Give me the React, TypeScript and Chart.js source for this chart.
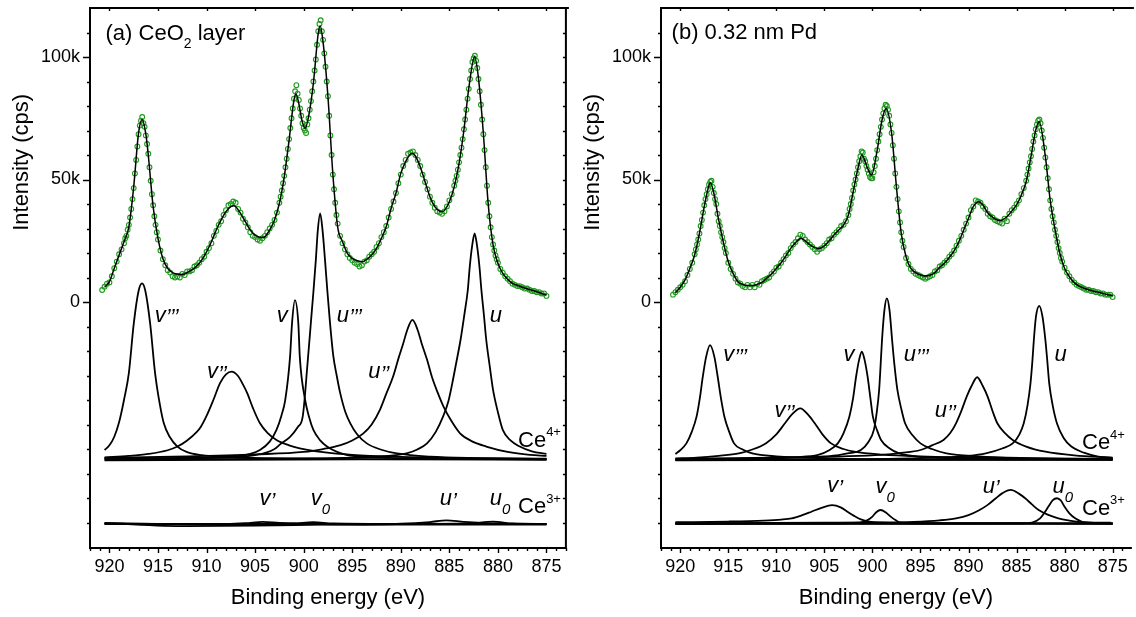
import React, { useEffect, useRef } from 'react';
import { Chart, registerables } from 'chart.js';

Chart.register(...registerables);

const FONT = '"Liberation Sans", Arial, Helvetica, sans-serif';
const GREEN = '#1c991c';

// Axis ticks
const X_TICKS = [920, 915, 910, 905, 900, 895, 890, 885, 880, 875];
const Y_TICKS = [0, 50, 100];
const Y_TICK_LABELS = ['0', '50k', '100k'];
const Y_TITLE = 'Intensity (cps)';
const X_TITLE = 'Binding energy (eV)';

// Measured spectra: binding energy grid (eV) and intensities (k cps)
const DATA_START = 920.75;
const DATA_STEP = 0.25;

const A_POINTS = [
  4.9, 6.2, 7.5, 8.0, 10.5, 13.8, 16.5, 19.5,
  21.5, 24.0, 27.0, 31.5, 38.0, 46.5, 58.0, 68.5,
  74.0, 73.0, 68.0, 60.5, 49.5, 39.5, 31.5, 25.5,
  21.0, 17.5, 15.0, 13.0, 12.0, 10.5, 10.0, 10.5,
  10.0, 11.5, 11.0, 12.5, 12.5, 13.0, 14.5, 15.0,
  16.0, 17.5, 18.5, 20.5, 22.0, 24.0, 27.0, 29.0,
  31.5, 33.0, 35.5, 37.5, 39.5, 40.0, 41.0, 40.5,
  38.0, 36.5, 34.0, 32.5, 30.5, 28.5, 27.0, 26.5,
  25.5, 25.0, 26.0, 27.0, 28.5, 30.0, 31.5, 33.5,
  36.5, 40.5, 45.5, 51.5, 58.5, 66.5, 75.0, 83.0,
  88.5, 82.5, 76.0, 71.0, 69.0, 75.0, 82.0, 90.0,
  99.0, 110.5, 115.0, 107.0, 96.0, 84.0, 68.0, 52.0,
  40.5, 32.0, 27.0, 24.0, 21.5, 19.5, 18.0, 17.0,
  16.0, 15.5, 14.5, 15.0, 16.5, 17.0, 18.5, 19.5,
  20.5, 22.5, 24.0, 26.5, 28.5, 31.0, 34.5, 38.0,
  41.0, 44.5, 48.5, 52.0, 55.5, 58.0, 60.5, 61.0,
  61.5, 60.0, 58.0, 55.5, 52.0, 49.0, 46.0, 43.0,
  40.5, 38.5, 37.0, 36.5, 36.0, 37.0, 39.0, 41.5,
  44.0, 47.5, 51.5, 57.0, 63.0, 70.5, 78.5, 87.0,
  94.5, 99.5, 98.5, 91.0, 80.5, 68.5, 55.0, 40.5,
  30.5, 23.5, 19.0, 16.0, 13.5, 12.0, 10.5, 9.5,
  8.5, 7.5, 7.0, 6.5, 6.5, 6.0, 5.5, 5.5,
  5.0, 4.5, 4.5, 4.0, 4.0, 3.5, 3.5, 2.5,
];

// extra measured points on the steep flanks [eV, k cps]
const A_POINTS_EXTRA = [
  [918.375, 26], [918.125, 29.5], [917.875, 34.5], [917.625, 42], [917.375, 52.5], [917.125, 63.5], [916.875, 72], [916.625, 75.5],
  [916.375, 71.5], [916.125, 64.5], [915.875, 55], [915.625, 44], [915.375, 35], [915.125, 28.5],
  [902.375, 43], [902.125, 48.5], [901.875, 55], [901.625, 62.5], [901.375, 71], [901.125, 79], [900.875, 86], [900.625, 85],
  [900.375, 79], [900.125, 73], [899.875, 70], [899.625, 72.5], [899.375, 78.5], [899.125, 86], [898.875, 94.5], [898.625, 105],
  [898.375, 113.5], [898.125, 110.5], [897.875, 101.5], [897.625, 90], [897.375, 76], [897.125, 60], [896.875, 46], [896.625, 35.5],
  [884.375, 49.5], [884.125, 54], [883.875, 60], [883.625, 66.5], [883.375, 74.5], [883.125, 83], [882.875, 91], [882.625, 98],
  [882.375, 100.5], [882.125, 95.5], [881.875, 86], [881.625, 74.5], [881.375, 62], [881.125, 47.5], [880.875, 35], [880.625, 26.5],
  [880.375, 21], [880.125, 17.5],
];

const B_POINTS = [
  3.0, 4.0, 5.0, 6.0, 7.0, 8.5, 11.0, 13.5,
  16.0, 19.5, 23.5, 28.0, 33.5, 39.5, 44.0, 48.0,
  49.5, 44.5, 40.0, 33.0, 28.5, 24.5, 20.0, 16.0,
  13.5, 11.5, 9.5, 8.0, 7.5, 6.5, 6.0, 7.0,
  6.0, 7.0, 6.0, 7.5, 7.0, 8.5, 9.0, 9.5,
  10.0, 11.5, 12.5, 14.0, 14.5, 16.0, 17.5, 19.0,
  20.0, 22.0, 23.5, 24.5, 26.0, 27.5, 27.0, 25.5,
  24.5, 23.5, 22.5, 21.5, 20.5, 21.5, 22.0, 23.0,
  24.0, 25.5, 26.0, 27.5, 28.5, 29.5, 31.0, 31.5,
  33.0, 35.5, 40.0, 45.5, 50.0, 55.0, 59.5, 61.0,
  57.5, 54.0, 51.0, 50.5, 55.5, 62.0, 68.5, 74.5,
  79.0, 80.0, 76.0, 69.0, 58.5, 47.0, 37.0, 28.5,
  22.5, 18.0, 15.5, 13.5, 12.5, 11.5, 11.0, 10.5,
  10.0, 9.5, 10.0, 10.5, 11.0, 12.5, 13.0, 14.5,
  15.0, 16.0, 17.0, 18.5, 19.5, 21.0, 23.0, 25.0,
  27.0, 29.5, 32.0, 34.5, 37.5, 39.0, 41.5, 41.0,
  40.5, 39.0, 38.0, 36.0, 35.0, 34.5, 33.5, 33.0,
  32.5, 32.0, 34.0, 33.0, 36.0, 37.5, 38.5, 40.0,
  41.5, 44.0, 46.5, 49.5, 54.5, 59.5, 65.5, 70.5,
  74.0, 73.0, 67.0, 59.0, 50.5, 41.5, 35.0, 29.5,
  24.5, 20.0, 16.5, 14.0, 12.0, 10.5, 9.0, 8.0,
  7.0, 6.5, 6.0, 5.5, 5.0, 5.0, 4.5, 4.5,
  4.0, 4.0, 3.5, 3.5, 3.0, 3.0, 3.0, 2.0,
];

const B_POINTS_EXTRA = [
  [918.375, 21.5], [918.125, 25.5], [917.875, 31], [917.625, 36.5], [917.375, 42], [917.125, 46], [916.875, 49], [916.625, 47],
  [916.375, 42], [916.125, 36], [915.875, 31], [915.625, 26.5], [915.375, 22],
  [902.375, 38], [902.125, 42.5], [901.875, 48], [901.625, 52.5], [901.375, 57.5], [901.125, 61.5], [900.875, 58.5], [900.625, 55.5],
  [900.375, 52.5], [900.125, 50.5], [899.875, 53], [899.625, 58.5], [899.375, 65.5], [899.125, 71.5], [898.875, 77], [898.625, 80.5],
  [898.375, 78.5], [898.125, 72.5], [897.875, 64], [897.625, 52.5], [897.375, 42], [897.125, 32.5], [896.875, 25],
  [883.875, 52], [883.625, 57], [883.375, 62.5], [883.125, 68], [882.875, 72.5], [882.625, 74.5], [882.375, 70], [882.125, 63],
  [881.875, 55], [881.625, 46], [881.375, 38], [881.125, 32.5], [880.875, 27], [880.625, 22], [880.375, 18],
];

// Fitted envelopes [eV, k cps]
const A_FIT = [
  [920.5, 6.0], [920, 8.3], [919.5, 13.8], [919, 19.2], [918.5, 24.6], [918, 30.7], [917.5, 47], [917, 69],
  [916.64, 74.5], [916.25, 68.5], [916, 60], [915.5, 38.9], [915, 26], [914.5, 17.8], [914, 13.7], [913.5, 12],
  [913, 11.4], [912.5, 11.2], [912, 12], [911.5, 13.1], [911, 14.7], [910.5, 17.1], [910, 20.5], [909.5, 24.6],
  [909, 29.4], [908.5, 33.5], [908, 36.9], [907.5, 38.9], [907.2, 39.3], [907, 38.9], [906.5, 36.2], [906, 32.8],
  [905.5, 29.4], [905, 27.3], [904.5, 26.4], [904.2, 26.3], [904, 26.6], [903.5, 29.4], [903, 33.5], [902.5, 40.3],
  [902, 51.1], [901.5, 66.1], [901, 82.4], [900.8, 84.9], [900.5, 81], [900.2, 74.5], [899.85, 70.9], [899.5, 75.6],
  [899, 89.3], [898.5, 109.7], [898.3, 112.7], [898, 106], [897.5, 83.8], [897, 52.5], [896.5, 30.7], [896, 24.6],
  [895.5, 19.9], [895, 17.8], [894.5, 16.9], [894, 16.4], [893.5, 17.4], [893, 19.2], [892.5, 21.9], [892, 26],
  [891.5, 30.7], [891, 38.2], [890.5, 44.4], [890, 52.5], [889.5, 57.3], [889, 60.4], [888.8, 60.7], [888.5, 59.6],
  [888, 55.2], [887.5, 49.1], [887, 43], [886.5, 38.9], [886, 37.1], [885.7, 36.9], [885.5, 37.4], [885, 40.9],
  [884.5, 47], [884, 56.6], [883.5, 70.2], [883, 87.2], [882.4, 100.1], [882, 91.3], [881.5, 68.9], [881, 40],
  [880.5, 23.3], [880, 15.8], [879.5, 11.7], [879, 9.3], [878.5, 7.6], [878, 6.8], [877.5, 6.0], [877, 5.4],
  [876.5, 4.8], [876, 4.2], [875.5, 3.5], [875, 2.9],
];

const B_FIT = [
  [920.5, 3.8], [920, 6], [919.5, 9], [919, 13.7], [918.5, 19.2], [918, 28], [917.5, 38.9], [917, 47.8],
  [916.86, 48.7], [916.5, 44.4], [916, 33.5], [915.5, 24.2], [915, 16.4], [914.5, 11.7], [914, 8.3], [913.5, 7.2],
  [913, 6.7], [912.5, 6.7], [912, 7.2], [911.5, 8], [911, 9.7], [910.5, 11.4], [910, 13.7], [909.5, 16],
  [909, 18.8], [908.5, 21.9], [908, 24.2], [907.45, 26], [907, 25], [906.5, 23.3], [906, 22.2], [905.6, 21.8],
  [905, 22.9], [904.5, 25], [904, 27.3], [903.5, 29.4], [903, 31.4], [902.5, 35.5], [902, 45], [901.5, 54.6],
  [901.1, 60], [900.5, 54.6], [900.1, 51.8], [899.5, 62], [899, 74.3], [898.57, 79], [898, 68.8], [897.5, 47],
  [897, 28], [896.5, 18.5], [896, 13.7], [895.5, 12], [895, 11], [894.5, 10.6], [894, 10.9], [893.5, 12],
  [893, 14.2], [892.5, 15.8], [892, 18.2], [891.5, 20.9], [891, 24.6], [890.5, 29.4], [890, 34.2], [889.5, 38.9],
  [888.95, 40.9], [888.5, 39.6], [888, 36.4], [887.5, 34.6], [887, 33.5], [886.7, 33.3], [886.5, 33.5], [886, 34.8],
  [885.5, 37.1], [885, 39.6], [884.5, 43.7], [884, 49.1], [883.5, 59.3], [883, 70.2], [882.64, 73.6], [882, 59.3],
  [881.5, 41.6], [881, 29.7], [880.5, 19.9], [880, 13.7], [879.5, 10.3], [879, 7.9], [878.5, 6.5], [878, 5.6],
  [877.5, 5], [877, 4.4], [876.5, 4], [876, 3.5], [875.5, 3], [875, 2.6],
];

// Panel (a) Ce4+ components (offset)
const A_V3 = [[920.5, -60.4], [920, -58.5], [919.5, -55], [919, -49], [918.5, -40], [918, -29], [917.5, -9], [917, 4.5], [916.64, 7.6], [916.3, 4.5], [915.8, -9], [915.3, -29], [914.8, -42], [914.4, -49.5], [913.8, -55], [913, -59], [912, -61.3], [910.5, -62.5], [908, -63.2], [904, -63.7], [898, -64], [890, -64.2], [875, -64.4]];
const A_V2 = [[920.5, -63.4], [918, -62.8], [916, -62], [914, -60.5], [913, -59], [912, -56.5], [911, -53], [910.6, -51], [910, -46.5], [909.3, -40], [908.6, -33], [908, -29.5], [907.4, -28.4], [906.8, -30], [906.2, -34], [905.8, -37.3], [905.2, -43.5], [904.5, -49.5], [903.7, -53.5], [902.8, -56.3], [901.5, -58.5], [900.4, -59.7], [898, -61.3], [895, -62.4], [890, -63.2], [885, -63.6], [875, -64]];
const A_V = [[920.5, -63.8], [912, -63.6], [907.2, -63.1], [905.5, -62], [904.5, -60.4], [903.5, -57], [902.8, -52.2], [902.3, -46.5], [901.9, -40], [901.4, -22.3], [901.2, -8.7], [900.9, 0.8], [900.55, -8.7], [900.4, -22.3], [899.85, -40], [899.4, -47.5], [899, -52.2], [898.3, -56.5], [897.6, -59], [896.5, -61.3], [895.6, -62.4], [893, -63.3], [888, -63.8], [875, -64.2]];
const A_U3 = [[920.5, -64], [910, -63.6], [905, -62.5], [903, -60], [902.4, -58], [901.4, -55], [900.6, -51], [900.1, -46.8], [899.6, -25], [899.25, -8], [899, 4], [898.75, 17], [898.55, 29], [898.3, 36.2], [898.05, 29], [897.8, 17], [897.55, 4], [897.3, -8], [896.95, -22], [896.6, -30], [896.25, -37], [895.7, -45], [895.2, -49.5], [894.5, -54], [893.5, -57.7], [892, -60.3], [890.4, -61.8], [887, -63.1], [882, -63.7], [875, -64.1]];
const A_U2 = [[920.5, -63.6], [912, -63], [905, -62.2], [900, -61.2], [898, -60], [896.2, -58.4], [895, -56.5], [893.85, -53.6], [893, -50], [892.15, -44], [891.5, -37.5], [890.8, -30.5], [890.2, -22.5], [889.75, -16.9], [889.3, -11], [888.8, -7.3], [888.3, -11], [887.85, -16.9], [887.3, -23.5], [886.8, -30.5], [886.2, -37], [885.6, -42.7], [884.8, -48.5], [883.9, -53.6], [882.6, -57], [881.2, -59], [879, -61.2], [876.7, -62.4], [875, -62.8]];
const A_U = [[920.5, -64.3], [905, -64], [895, -63.5], [892.15, -63.1], [890.5, -62.5], [889.4, -61.8], [888.3, -60.2], [887.3, -57.7], [886.4, -53], [885.65, -46.8], [885.1, -40.5], [884.7, -33.2], [884.3, -25], [883.85, -15.5], [883.45, -5], [883.1, 4.9], [882.9, 14.4], [882.65, 23], [882.4, 28], [882.15, 23], [881.9, 14.4], [881.7, 4.9], [881.45, -5], [881.2, -15.5], [880.85, -26], [880.5, -35.9], [880, -45], [879.5, -52.2], [878.7, -56.5], [877.75, -59], [876.5, -61], [875, -62]];
const A_BG4 = [[920.5, -64.6], [875, -63.9]];
// Panel (a) Ce3+ components
const A_V1 = [[920.5, -90.3], [915, -90.6], [910, -90.8], [906, -90.3], [904.2, -89.7], [902.5, -90.2], [899, -90.6], [890, -90.8], [875, -90.8]];
const A_V0 = [[920.5, -90.5], [905, -90.6], [901, -90.4], [899, -89.9], [897, -90.4], [890, -90.6], [875, -90.6]];
const A_U1 = [[920.5, -90.2], [912, -91.5], [905, -91.3], [898, -90.9], [890, -90.5], [887, -89.8], [885.3, -89.1], [883.5, -89.7], [880, -90.4], [875, -90.6]];
const A_U0 = [[920.5, -90.6], [890, -90.6], [883, -90.4], [880.5, -89.6], [878.5, -90.4], [875, -90.6]];

// Panel (b) Ce4+ components
const B_V3 = [[920.5, -62], [920, -60.5], [919.36, -57.7], [918.8, -53], [918.3, -46.8], [917.95, -39], [917.65, -30.5], [917.3, -22.3], [916.9, -17.6], [916.45, -22.3], [916.1, -30.5], [915.75, -39.5], [915.4, -46.8], [914.9, -53], [914.4, -57.7], [913.5, -60.2], [912.5, -61.8], [910, -63], [905, -63.8], [895, -64.2], [875, -64.4]];
const B_V2 = [[920.5, -63.8], [918.3, -63.5], [916, -62.8], [913.9, -61.8], [912.5, -60.2], [911.1, -57.7], [910, -54], [909.1, -49.5], [908.4, -46], [907.5, -43.4], [906.7, -46], [906, -49.5], [905.2, -54], [904.3, -57.7], [903, -60], [901.9, -61.1], [899, -62.3], [895, -63], [885, -63.7], [875, -64]];
const B_V = [[920.5, -64.2], [912, -63.8], [908, -63.3], [905.65, -62.4], [904.5, -60.5], [903.6, -57.7], [903, -53.5], [902.4, -46.8], [902, -39], [901.7, -30.5], [901.38, -23.5], [901.1, -20.3], [900.82, -23.5], [900.5, -30.5], [900.2, -39.5], [899.95, -46.8], [899.5, -52.5], [899.1, -56.3], [898.2, -59.8], [897.2, -61.8], [895, -63.2], [890, -63.8], [875, -64.2]];
const B_U3 = [[920.5, -64.3], [910, -63.7], [905, -63], [903.5, -62.5], [902.6, -61.8], [901.2, -60.4], [900.4, -57], [899.85, -52.2], [899.55, -45], [899.3, -35.9], [899.15, -26], [899, -15.5], [898.75, -3.3], [898.5, 1.5], [898.22, -3.3], [897.95, -15.5], [897.7, -26], [897.4, -35.9], [897, -43.5], [896.6, -49.5], [895.8, -54.5], [895, -57.7], [893.8, -60], [892.3, -61.8], [889, -63], [884, -63.7], [875, -64.2]];
const B_U2 = [[920.5, -64], [910, -63.5], [903, -63], [899.1, -62.4], [897, -61.6], [895, -60.4], [893.8, -58.5], [892.6, -56.3], [891.9, -53.5], [891.3, -49.5], [890.7, -44], [890.2, -38.7], [889.7, -34.4], [889.1, -30.7], [888.5, -34.4], [888, -38.7], [887.5, -44.5], [887, -49.5], [886.2, -53.5], [885.4, -56.3], [884, -59], [882, -61.1], [879, -62.6], [875, -63.5]];
const B_U = [[920.5, -64.4], [905, -64.2], [895, -63.7], [890, -62.8], [888.2, -61.8], [886.5, -59.8], [885.4, -57.7], [884.7, -54], [884.25, -49.5], [883.85, -42], [883.55, -33.2], [883.35, -24], [883.2, -15.5], [882.98, -6], [882.64, -1.6], [882.3, -6], [882, -15.5], [881.8, -24], [881.6, -33.2], [881.25, -42], [880.8, -49.5], [880.1, -55.5], [879.3, -59], [878, -61.5], [876.5, -63.1], [875, -63.7]];
const B_BG4 = [[920.5, -64.6], [875, -64.4]];
// Panel (b) Ce3+ components
const B_V1 = [[920.5, -89.9], [915, -89.6], [911.3, -89.2], [909.5, -88.8], [908.4, -88.3], [907.3, -87], [906.35, -85.6], [905.3, -84], [904.2, -82.9], [903.3, -83.8], [902.6, -85.6], [901.9, -87.3], [901.2, -88.7], [900.3, -89.6], [899, -90.1], [895, -90.3], [875, -90.4]];
const B_V0 = [[920.5, -90.4], [905, -90.4], [901.3, -90.1], [900.5, -89], [900, -87.6], [899.6, -85.8], [899.15, -84.9], [898.6, -85.9], [898.1, -87.6], [897.6, -89], [897.1, -90], [895, -90.3], [875, -90.4]];
const B_U1 = [[920.5, -90.3], [905, -90.1], [900, -90], [895.7, -89.7], [893, -89.1], [891.3, -88.3], [890, -87], [888.85, -84.9], [888, -82.8], [887.15, -80.1], [886.5, -78.1], [885.6, -76.7], [884.8, -78.1], [884.1, -80.1], [883.4, -82.6], [882.7, -84.9], [881.7, -86.9], [880.65, -88.3], [879.5, -89.2], [878.6, -89.7], [875.2, -90.1]];
const B_U0 = [[920.5, -90.4], [890, -90.4], [884.5, -90.3], [883.4, -90], [882.55, -88.3], [882.1, -86], [881.7, -83.6], [881.25, -81], [880.8, -80.1], [880.4, -81], [880, -83.6], [879.5, -86.3], [878.9, -88.3], [877.9, -90], [875, -90.4]];
const B_BG3 = [[920.5, -90.6], [875, -90.5]];

// ---- labels (text, drawn at data coordinates) ----
type Part = [string, number, boolean, number];
type Label = { x: number; y: number; parts: Part[] };

const comp = (x: number, y: number, letter: string, primes = '', sub = ''): Label => {
  const parts: Part[] = [[letter, 22, true, 0]];
  if (primes) parts.push([primes, 22, true, 2.5]);
  if (sub) parts.push([sub, 15, true, 9]);
  return { x, y, parts };
};
const ion = (x: number, y: number, charge: string): Label => ({
  x, y, parts: [['Ce', 22, false, 0], [charge, 13, false, -10.5]],
});

const A_LABELS: Label[] = [
  { x: 920.4, y: 106.9, parts: [['(a) CeO', 22, false, 0], ['2', 14, false, 8], [' layer', 22, false, 0]] },
  comp(915.34, -8.0, 'v', '’’’'),
  comp(902.76, -8.0, 'v'),
  comp(909.95, -31.1, 'v', '’’'),
  comp(896.6, -8.0, 'u', '’’’'),
  comp(893.35, -31.1, 'u', '’’'),
  comp(880.84, -8.0, 'u'),
  ion(877.93, -59.1, '4+'),
  ion(877.93, -86.2, '3+'),
  comp(904.55, -82.9, 'v', '’'),
  comp(899.27, -82.9, 'v', '', '0'),
  comp(885.98, -82.9, 'u', '’'),
  comp(880.84, -82.9, 'u', '', '0'),
];

const B_LABELS: Label[] = [
  { x: 920.9, y: 107.2, parts: [['(b) 0.32 nm Pd', 22, false, 0]] },
  comp(915.53, -24.1, 'v', '’’’'),
  comp(910.18, -47.1, 'v', '’’'),
  comp(903.02, -24.1, 'v'),
  comp(896.75, -24.1, 'u', '’’’'),
  comp(893.5, -47.1, 'u', '’’'),
  comp(881.06, -24.1, 'u'),
  ion(878.19, -60.1, '4+'),
  ion(878.19, -86.9, '3+'),
  comp(904.7, -77.7, 'v', '’'),
  comp(899.67, -78.1, 'v', '', '0'),
  comp(888.53, -77.8, 'u', '’'),
  comp(881.27, -78.1, 'u', '', '0'),
];

const Y_MIN = -100.4;
const Y_MAX = 120;
const X_MAX = 922;
const Y_TITLE_CENTER = 57; // k cps, where the y title is centred

function framePlugin(labels: Label[], rightBorder: boolean) {
  return {
    id: 'frameLabels',
    afterDraw(chart: any) {
      const { ctx, chartArea: a, scales } = chart;
      const xs = scales.x;
      const ys = scales.y;
      ctx.save();
      ctx.strokeStyle = '#000';
      ctx.lineCap = 'square';
      ctx.lineWidth = 2;
      ctx.beginPath();
      ctx.moveTo(a.left, a.bottom);
      ctx.lineTo(a.left, a.top);
      ctx.lineTo(a.right + 2, a.top);
      if (rightBorder) {
        ctx.moveTo(a.right, a.top);
        ctx.lineTo(a.right, a.bottom);
      }
      ctx.moveTo(a.left, a.bottom);
      ctx.lineTo(a.right, a.bottom);
      ctx.stroke();

      ctx.lineCap = 'butt';
      ctx.lineWidth = 1.4;
      ctx.beginPath();
      const xmin = Math.ceil(xs.min);
      const xmax = Math.floor(xs.max);
      for (let v = xmin; v <= xmax; v++) {
        const px = Math.round(xs.getPixelForValue(v)) + 0.5;
        const major = v % 5 === 0;
        ctx.moveTo(px, a.bottom);
        ctx.lineTo(px, a.bottom + (major ? 5 : 3));
        if (major) {
          ctx.moveTo(px, a.top);
          ctx.lineTo(px, a.top + 3);
        }
      }
      for (let v = -90; v <= 110; v += 10) {
        const py = Math.round(ys.getPixelForValue(v)) + 0.5;
        const major = Y_TICKS.indexOf(v) >= 0;
        ctx.moveTo(a.left, py);
        ctx.lineTo(a.left - (major ? 7 : 3), py);
        if (rightBorder) {
          ctx.moveTo(a.right, py);
          ctx.lineTo(a.right - 3, py);
        }
      }
      ctx.stroke();

      ctx.fillStyle = '#000';
      // y-axis title
      ctx.save();
      ctx.translate(a.left - 68.5, ys.getPixelForValue(Y_TITLE_CENTER));
      ctx.rotate(-Math.PI / 2);
      ctx.textAlign = 'center';
      ctx.textBaseline = 'middle';
      ctx.font = `22px ${FONT}`;
      ctx.fillText(Y_TITLE, 0, 0);
      ctx.restore();

      ctx.textAlign = 'left';
      ctx.textBaseline = 'alphabetic';
      for (const l of labels) {
        let px = xs.getPixelForValue(l.x);
        const py = ys.getPixelForValue(l.y);
        for (const [t, size, it, dy] of l.parts) {
          ctx.font = `${it ? 'italic ' : ''}${size}px ${FONT}`;
          ctx.fillText(t, px, py + dy);
          px += ctx.measureText(t).width;
        }
      }
      ctx.restore();
    },
  };
}

function makeConfig(points: number[], extra: number[][], fit: number[][], comps: number[][][], labels: Label[], xMin: number, rightPad: number, rightBorder: boolean): any {
  const toXY = (arr: number[][]) => arr.map(([x, y]) => ({ x, y }));
  const measured = points.map((y, i) => ({ x: DATA_START - i * DATA_STEP, y })).concat(toXY(extra));
  return {
    type: 'scatter',
    data: {
      datasets: [
        { data: toXY(fit), showLine: true, borderColor: '#000', borderWidth: 1.5, pointRadius: 0, cubicInterpolationMode: 'monotone', fill: false },
        {
          data: measured,
          showLine: false, pointRadius: 2.4, pointBorderWidth: 1.1, pointBorderColor: GREEN, pointBackgroundColor: 'rgba(255,255,255,0)',
        },
        ...comps.map((c) => ({ data: toXY(c), showLine: true, borderColor: '#000', borderWidth: 1.8, pointRadius: 0, cubicInterpolationMode: 'monotone', fill: false })),
      ],
    },
    options: {
      responsive: false,
      animation: false,
      devicePixelRatio: 1,
      events: [],
      layout: { padding: { left: 0, right: rightPad, top: 8, bottom: 0 } },
      plugins: { legend: { display: false }, tooltip: { enabled: false } },
      scales: {
        x: {
          type: 'linear', reverse: true, min: xMin, max: X_MAX,
          afterBuildTicks: (s: any) => { s.ticks = X_TICKS.map((v) => ({ value: v })); },
          afterFit: (s: any) => { s.height = 69; s.paddingLeft = 0; s.paddingRight = 0; },
          grid: { display: false, drawTicks: false },
          border: { display: false },
          ticks: { padding: 8, font: { family: FONT, size: 18 }, color: '#000', maxRotation: 0, autoSkip: false, callback: (v: number) => String(v) },
          title: { display: true, text: X_TITLE, font: { family: FONT, size: 22 }, color: '#000', padding: { top: 0, bottom: 5.5 } },
        },
        y: {
          type: 'linear', min: Y_MIN, max: Y_MAX,
          afterBuildTicks: (s: any) => { s.ticks = Y_TICKS.map((v) => ({ value: v })); },
          afterFit: (s: any) => { s.width = 90; s.paddingTop = 0; s.paddingBottom = 0; },
          grid: { display: false, drawTicks: false },
          border: { display: false },
          ticks: { padding: 10, font: { family: FONT, size: 18 }, color: '#000', callback: (v: number) => { const i = Y_TICKS.indexOf(v); return i >= 0 ? Y_TICK_LABELS[i] : ''; } },
          title: { display: false },
        },
      },
    },
    plugins: [framePlugin(labels, rightBorder)],
  };
}

function Panel({ left, width, build }: { left: number; width: number; build: () => any }) {
  const ref = useRef<HTMLCanvasElement>(null);
  useEffect(() => {
    const chart = new Chart(ref.current as HTMLCanvasElement, build());
    return () => chart.destroy();
  }, []);
  return (
    <div style={{ position: 'absolute', left, top: 0, width, height: 617, overflow: 'hidden' }}>
      <canvas ref={ref} width={width} height={617} style={{ display: 'block', width, height: 617 }} />
    </div>
  );
}

export default function App() {
  return (
    <div style={{ position: 'absolute', left: 0, top: 0, width: 1136, height: 617, background: '#fff', overflow: 'hidden' }}>
      <Panel left={0} width={571} build={() => makeConfig(A_POINTS, A_POINTS_EXTRA, A_FIT, [A_V3, A_V2, A_V, A_U3, A_U2, A_U, A_BG4, A_V1, A_V0, A_U1, A_U0], A_LABELS, 873, 5, true)} />
      <Panel left={571} width={565} build={() => makeConfig(B_POINTS, B_POINTS_EXTRA, B_FIT, [B_V3, B_V2, B_V, B_U3, B_U2, B_U, B_BG4, B_V1, B_V0, B_U1, B_U0, B_BG3], B_LABELS, 873.1, 0, false)} />
    </div>
  );
}
